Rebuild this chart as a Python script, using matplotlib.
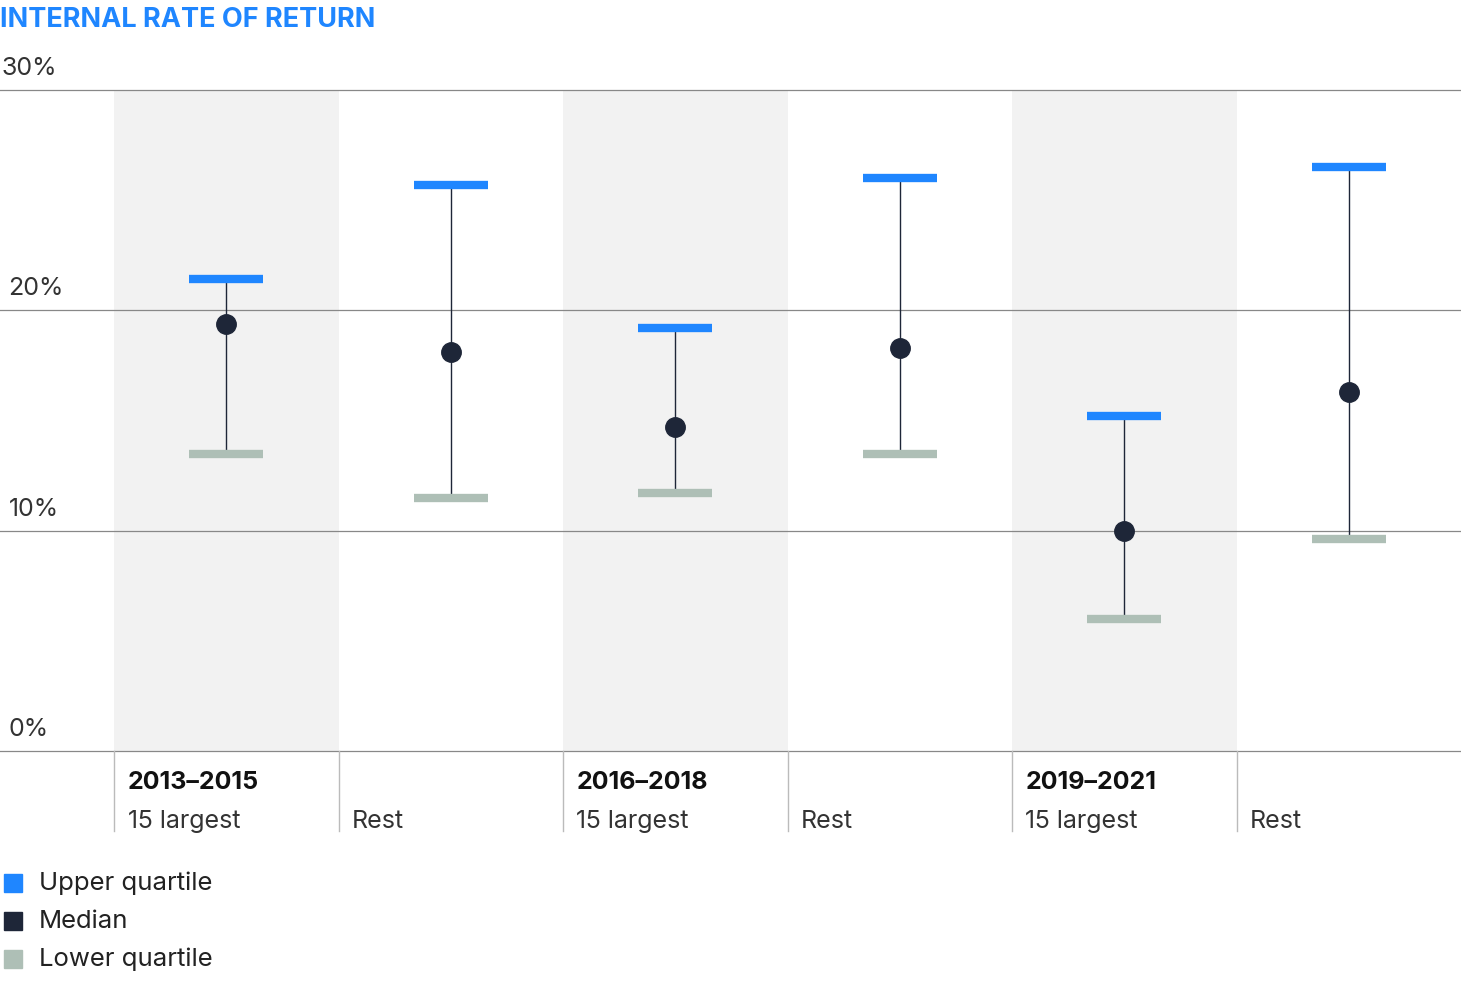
import matplotlib
matplotlib.use("Agg")
import matplotlib.pyplot as plt
from matplotlib.patches import Rectangle

periods = ["2013–2015", "2016–2018", "2019–2021"]
groups = ["15 largest", "Rest"]
upper = [21.4, 25.7, 19.2, 26.0, 15.2, 26.5]
median = [19.4, 18.1, 14.7, 18.3, 10.0, 16.3]
lower = [13.5, 11.5, 11.7, 13.5, 6.0, 9.6]
yticks = [0, 10, 20, 30]

BLUE = "#1f86ff"; DARK = "#1e2638"; GREEN = "#aebfb6"; GREY = "#f2f2f2"
plt.rcParams["font.family"] = "Inter"

W, H = 1461, 991
fig = plt.figure(figsize=(W/100, H/100), dpi=100)
ax = fig.add_axes([0, (H-751)/H, 1, 661/H])
ax.set_xlim(-1.008, 5.5); ax.set_ylim(0, 30)
ax.axis("off")
for i in range(0, 6, 2):
    ax.add_patch(Rectangle((i-0.5, 0), 1, 30, color=GREY, zorder=0, lw=0))
for t in yticks:
    ax.axhline(t, color="#888888", lw=0.9, zorder=1, clip_on=False)
    ax.text(-1.0 if t == 30 else -0.97, t+0.45, f"{t}%", fontsize=18, color="#333333", va="bottom", ha="left")
for i in range(6):
    ax.plot([i, i], [lower[i], upper[i]], color=DARK, lw=1, zorder=2)
    ax.plot([i-0.165, i+0.165], [upper[i]]*2, color=BLUE, lw=6, solid_capstyle="butt", zorder=3)
    ax.plot([i-0.165, i+0.165], [lower[i]]*2, color=GREEN, lw=6, solid_capstyle="butt", zorder=3)
    ax.plot(i, median[i], "o", color=DARK, ms=14, zorder=4)
    ax.plot([i-0.5, i-0.5], [0, -3.63], color="#bbbbbb", lw=1, clip_on=False)
    ax.text(i-0.44, -3.22, groups[i % 2], fontsize=18, color="#333333", va="center", ha="left")
    if i % 2 == 0:
        ax.text(i-0.44, -1.41, periods[i//2], fontsize=18, fontweight="bold", color="#111111", va="center", ha="left")

fig.text(0.0, 1-20/H, "INTERNAL RATE OF RETURN", fontsize=19.5, fontweight="bold", color=BLUE, va="center", ha="left")
for k, (lab, c) in enumerate([("Upper quartile", BLUE), ("Median", DARK), ("Lower quartile", GREEN)]):
    y = 883 + 38*k
    fig.patches.append(Rectangle((4/W, 1-(y+9)/H), 18/W, 18/H, color=c, transform=fig.transFigure))
    fig.text(39/W, 1-y/H, lab, fontsize=18.5, color="#222222", va="center", ha="left")
fig.savefig("out.png", dpi=100)
